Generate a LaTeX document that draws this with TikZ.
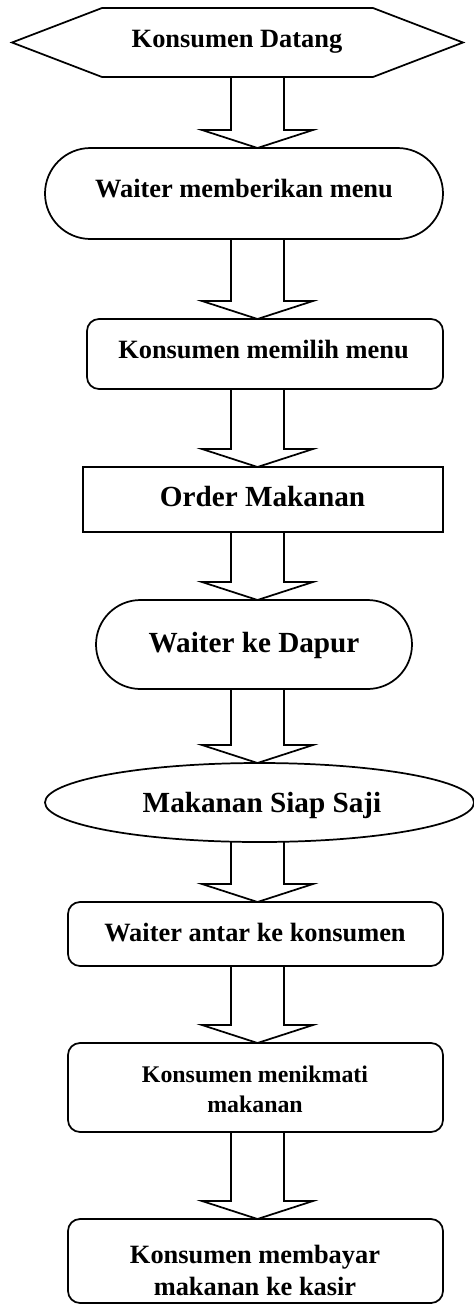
\documentclass[tikz,border=0pt]{standalone}
\usepackage{fontspec}
\setmainfont{Liberation Serif}
\usetikzlibrary{shapes.misc,shapes.geometric,calc}
\newlength\pxu
\setlength\pxu{0.75pt}
\tikzset{
  shp/.style={draw, line width=1.3pt, inner sep=0pt, outer sep=0pt},
  stad/.style={shp, rounded rectangle},
  rbox/.style={shp, rectangle, rounded corners=9pt},
  pbox/.style={shp, rectangle},
  oval/.style={shp, ellipse},
  ghost/.style={rectangle, inner sep=0pt, outer sep=0pt},
  lblA/.style={anchor=base, inner sep=0pt, align=center, font=\bfseries\fontsize{19.8}{24}\selectfont},
  lblB/.style={anchor=base, inner sep=0pt, align=center, font=\bfseries\fontsize{21.9}{26}\selectfont},
  lblC/.style={anchor=base, inner sep=0pt, align=center, font=\bfseries\fontsize{17.9}{22.5}\selectfont},
  barrow/.style={draw, line width=1.3pt, line join=miter},
}
\newcommand{\blockarr}[2]{%
  \draw[barrow] ($(ax |- #1.south)+(-26.5,0)$) -- ($(ax |- #2.north)+(-26.5,-18)$)
    -- ($(ax |- #2.north)+(-55.5,-18)$) -- (ax |- #2.north)
    -- ($(ax |- #2.north)+(55.5,-18)$) -- ($(ax |- #2.north)+(26.5,-18)$)
    -- ($(ax |- #1.south)+(26.5,0)$);}
\begin{document}
\begin{tikzpicture}[x=0.75pt, y=-0.75pt]
  \path[fill=white] (0,0) rectangle (474,1304);
  \useasboundingbox (0,0) rectangle (474,1304);
  \coordinate (ax) at (257.5,0);

  % shapes
  \node[ghost, minimum width=451\pxu, minimum height=69\pxu] (n1) at (237.5,42.5) {};
  \draw[shp, line join=miter] (n1.west) -- ($(n1.north west)+(90,0)$) -- ($(n1.north east)+(-90,0)$)
     -- (n1.east) -- ($(n1.south east)+(-90,0)$) -- ($(n1.south west)+(90,0)$) -- cycle;
  \node[stad, minimum width=398\pxu, minimum height=91\pxu] (n2) at (244,193.5) {};
  \node[rbox, minimum width=356\pxu, minimum height=70\pxu] (n3) at (265,354) {};
  \node[pbox, minimum width=360\pxu, minimum height=65\pxu] (n4) at (263,499.5) {};
  \node[stad, minimum width=316\pxu, minimum height=89\pxu] (n5) at (254,644.5) {};
  \node[oval, minimum width=429\pxu, minimum height=79\pxu] (n6) at (259.5,802.5) {};
  \node[rbox, minimum width=375\pxu, minimum height=64\pxu] (n7) at (255.5,934) {};
  \node[rbox, minimum width=375\pxu, minimum height=89\pxu] (n8) at (255.5,1087.5) {};
  \node[rbox, minimum width=375\pxu, minimum height=84\pxu] (n9) at (255.5,1261) {};

  % texts
  \node[lblA] (t1) at (237,47) {Konsumen Datang};
  \node[lblA] (t2) at (244,197) {Waiter memberikan menu};
  \node[lblA] (t3) at (263.5,358) {Konsumen memilih menu};
  \node[lblB] (t4) at (262.5,506) {Order Makanan};
  \node[lblB] (t5) at (254,652) {Waiter ke Dapur};
  \node[lblB] (t6) at (262,812.5) {Makanan Siap Saji};
  \node[lblA] (t7) at (255,941.5) {Waiter antar ke konsumen};
  \node[lblC] (t8) at (255,1112) {Konsumen menikmati\\makanan};
  \node[lblA] (t9) at (255,1295) {Konsumen membayar\\makanan ke kasir};

  % block arrows
  \blockarr{n1}{n2}
  \blockarr{n2}{n3}
  \blockarr{n3}{n4}
  \blockarr{n4}{n5}
  \blockarr{n5}{n6}
  \blockarr{n6}{n7}
  \blockarr{n7}{n8}
  \blockarr{n8}{n9}
\end{tikzpicture}
\end{document}
